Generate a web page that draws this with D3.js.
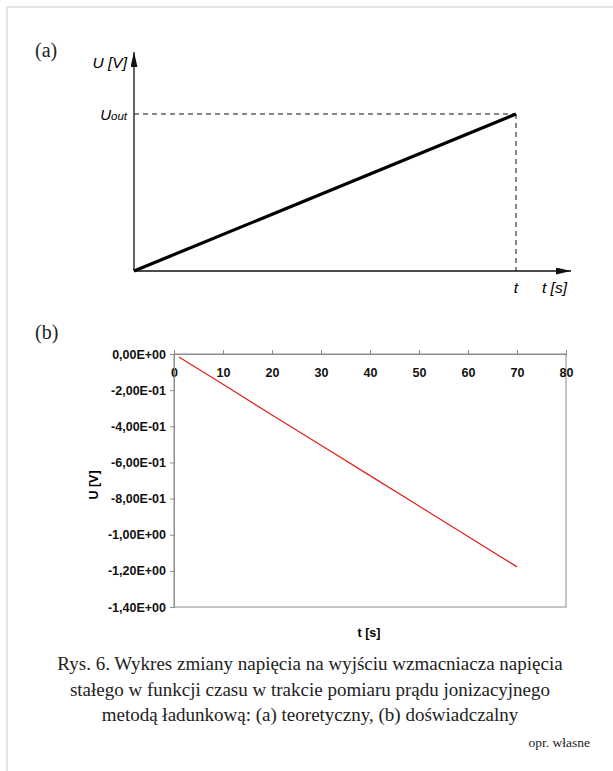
<!DOCTYPE html>
<html>
<head>
<meta charset="utf-8">
<script src="https://cdn.jsdelivr.net/npm/d3@7"></script>
<style>
  body { margin: 0; background: #fff; }
  svg { display: block; }
</style>
</head>
<body>
<svg id="fig" width="613" height="771"></svg>
<script>
// (a) theoretical ramp, normalised
const rampT = [0, 1];
const rampU = [0, 1];

// (b) measured voltage
const timeS = [1, 10, 20, 30, 40, 50, 60, 70];
const voltV = [-0.017, -0.168, -0.337, -0.505, -0.673, -0.841, -1.010, -1.178];
const xTicksB = [0, 10, 20, 30, 40, 50, 60, 70, 80];
const yTicksB = [0, -0.2, -0.4, -0.6, -0.8, -1.0, -1.2, -1.4];

const captionLines = [
    "Rys. 6. Wykres zmiany napięcia na wyjściu wzmacniacza napięcia",
    "stałego w funkcji czasu w trakcie pomiaru prądu jonizacyjnego",
    "metodą ładunkową: (a) teoretyczny, (b) doświadczalny"
];

const svg = d3.select("#fig");
const serif = "'Liberation Serif', 'Times New Roman', serif";
const sans = "'Liberation Sans', Arial, sans-serif";

// page frame
svg.append("line").attr("x1", 7).attr("x2", 613).attr("y1", 7).attr("y2", 7)
    .attr("stroke", "#dcdcdc").attr("stroke-width", 1.5);
svg.append("line").attr("x1", 7).attr("x2", 7).attr("y1", 7).attr("y2", 771)
    .attr("stroke", "#dcdcdc").attr("stroke-width", 1.5);

// ---------- (a) ----------
svg.append("text").text("(a)").attr("x", 35).attr("y", 57)
    .attr("font-family", serif).attr("font-size", 20).attr("fill", "#222");

const xa = d3.scaleLinear().domain([0, 1]).range([134, 516]);
const ya = d3.scaleLinear().domain([0, 1]).range([271, 114]);

const defs = svg.append("defs");
defs.append("marker").attr("id", "arr").attr("viewBox", "0 0 15 7")
    .attr("refX", 15).attr("refY", 3.5).attr("markerWidth", 15).attr("markerHeight", 7)
    .attr("markerUnits", "userSpaceOnUse").attr("orient", "auto")
    .append("path").attr("d", "M0,0 L15,3.5 L0,7 Z").attr("fill", "#111");

const ga = svg.append("g");
ga.append("line").attr("x1", xa(0)).attr("y1", ya(0)).attr("x2", 571).attr("y2", ya(0))
    .attr("stroke", "#111").attr("stroke-width", 1.3).attr("marker-end", "url(#arr)");
ga.append("line").attr("x1", xa(0)).attr("y1", ya(0)).attr("x2", xa(0)).attr("y2", 52)
    .attr("stroke", "#111").attr("stroke-width", 1.3).attr("marker-end", "url(#arr)");

ga.append("line").attr("x1", xa(0)).attr("x2", xa(1)).attr("y1", ya(1)).attr("y2", ya(1))
    .attr("stroke", "#111").attr("stroke-width", 1).attr("stroke-dasharray", "5,4");
ga.append("line").attr("x1", xa(1)).attr("x2", xa(1)).attr("y1", ya(1)).attr("y2", ya(0))
    .attr("stroke", "#111").attr("stroke-width", 1).attr("stroke-dasharray", "5,4");

ga.append("path")
    .datum(rampT.map((t, i) => [t, rampU[i]]))
    .attr("d", d3.line().x(d => xa(d[0])).y(d => ya(d[1])))
    .attr("stroke", "#000").attr("stroke-width", 3.2).attr("fill", "none");

ga.append("text").attr("x", 127).attr("y", 68).attr("text-anchor", "end")
    .attr("font-family", sans).attr("font-style", "italic").attr("font-size", 15.5)
    .text("U [V]");
const uo = ga.append("text").attr("x", 127).attr("y", 120).attr("text-anchor", "end")
    .attr("font-family", sans).attr("font-style", "italic").attr("font-size", 15);
uo.append("tspan").text("U");
uo.append("tspan").attr("font-size", 11.5).text("out");
ga.append("text").attr("x", xa(1)).attr("y", 293).attr("text-anchor", "middle")
    .attr("font-family", sans).attr("font-style", "italic").attr("font-size", 15.5).text("t");
ga.append("text").attr("x", 542).attr("y", 293)
    .attr("font-family", sans).attr("font-style", "italic").attr("font-size", 15.5).text("t [s]");

// ---------- (b) ----------
svg.append("text").text("(b)").attr("x", 35).attr("y", 339)
    .attr("font-family", serif).attr("font-size", 20).attr("fill", "#222");

const xb = d3.scaleLinear().domain([0, 80]).range([174, 566]);
const yb = d3.scaleLinear().domain([-1.4, 0]).range([607, 354]);
const gb = svg.append("g");

gb.append("rect").attr("x", xb(0)).attr("y", yb(0))
    .attr("width", xb(80) - xb(0)).attr("height", yb(-1.4) - yb(0))
    .attr("fill", "none").attr("stroke", "#8c8c8c").attr("stroke-width", 1);

const fmtE = v => {
    const s = v.toExponential(2).replace(".", ",");
    return s.replace(/e([+-])(\d)$/, "E$10$2").replace("-0,00", "0,00");
};

const axX = gb.append("g").attr("transform", `translate(0,${yb(0)})`)
    .call(d3.axisTop(xb).tickValues(xTicksB).tickSize(4).tickFormat(d3.format("d")));
axX.select(".domain").attr("stroke", "#8c8c8c");
axX.selectAll(".tick line").attr("stroke", "#8c8c8c");
axX.selectAll(".tick text").attr("y", 23).attr("dy", 0)
    .attr("font-family", sans).attr("font-weight", "bold").attr("font-size", 12.5).attr("fill", "#111");

const axY = gb.append("g").attr("transform", `translate(${xb(0)},0)`)
    .call(d3.axisLeft(yb).tickValues(yTicksB).tickSize(4).tickFormat(fmtE));
axY.select(".domain").attr("stroke", "#8c8c8c");
axY.selectAll(".tick line").attr("stroke", "#8c8c8c");
axY.selectAll(".tick text").attr("x", -8)
    .attr("font-family", sans).attr("font-weight", "bold").attr("font-size", 12.5).attr("fill", "#111");

gb.append("path")
    .datum(timeS.map((t, i) => [t, voltV[i]]))
    .attr("d", d3.line().x(d => xb(d[0])).y(d => yb(d[1])))
    .attr("stroke", "#e0201a").attr("stroke-width", 1.2).attr("fill", "none");

gb.append("text").attr("transform", "translate(98,485) rotate(-90)").attr("text-anchor", "middle")
    .attr("font-family", sans).attr("font-weight", "bold").attr("font-size", 12.5).text("U [V]");
gb.append("text").attr("x", 369).attr("y", 637).attr("text-anchor", "middle")
    .attr("font-family", sans).attr("font-weight", "bold").attr("font-size", 12.5).text("t [s]");

// ---------- caption ----------
svg.append("g").selectAll("text").data(captionLines).join("text")
    .attr("x", 310).attr("y", (d, i) => 670 + i * 25.5)
    .attr("text-anchor", "middle").attr("font-family", serif).attr("font-size", 19)
    .attr("fill", "#222").text(d => d);
svg.append("text").attr("x", 590).attr("y", 747).attr("text-anchor", "end")
    .attr("font-family", serif).attr("font-size", 13.5).attr("fill", "#222").text("opr. własne");
</script>
</body>
</html>
